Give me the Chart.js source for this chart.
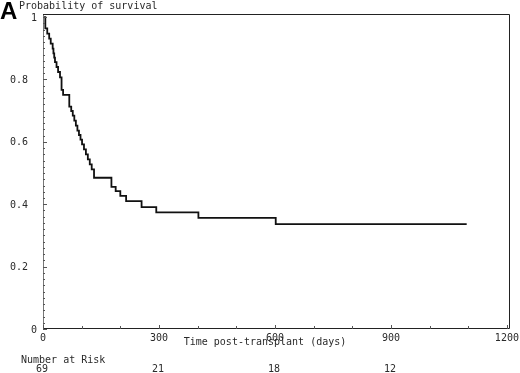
<!DOCTYPE html>
<html>
<head>
<meta charset="utf-8">
<script src="https://cdn.jsdelivr.net/npm/chart.js@4"></script>
<style>
html, body { margin: 0; padding: 0; background: #fff; }
#wrap { position: relative; width: 520px; height: 373px; }
</style>
</head>
<body>
<div id="wrap"><canvas id="km"></canvas></div>
<script>
// Kaplan-Meier, Werte
const days = [0, 6, 11, 16, 20, 25, 27, 29, 31, 35, 39, 44, 48, 52,
  68, 73, 77, 81, 85, 89, 93, 97, 101, 106, 111, 116, 121, 126, 132,
  177, 188, 200, 215, 255, 293, 402, 602, 1096];
const survival = [1.0, 0.964, 0.947, 0.931, 0.915, 0.899, 0.884, 0.870, 0.856, 0.840, 0.824, 0.807, 0.767, 0.751,
  0.713, 0.699, 0.684, 0.668, 0.652, 0.636, 0.622, 0.607, 0.592, 0.576, 0.560, 0.544, 0.528, 0.512, 0.485,
  0.456, 0.442, 0.427, 0.410, 0.391, 0.374, 0.356, 0.336, 0.336];

const xTicks = [0, 100, 200, 300, 400, 500, 600, 700, 800, 900, 1000, 1100, 1200];
const xLabelTicks = [0, 300, 600, 900, 1200];
const yTickValues = [0, 0.2, 0.4, 0.6, 0.8, 1];
const yTickLabels = ['0', '0.2', '0.4', '0.6', '0.8', '1'];
const riskTimes = [0, 300, 600, 900];
const riskCounts = [69, 21, 18, 12];

const monoFont = '10px "DejaVu Sans Mono", monospace';
const textColor = '#2a2a2a';

const points = days.map((d, i) => ({ x: d, y: survival[i] }));

// Rahmen, Ticks nach innen und die Beschriftungen
const framePlugin = {
  id: 'frame',
  afterDraw(chart) {
    const ctx = chart.ctx;
    const a = chart.chartArea;
    const x = chart.scales.x;
    const y = chart.scales.y;
    ctx.save();

    // linke Achse
    ctx.strokeStyle = '#777';
    ctx.lineWidth = 1;
    ctx.beginPath();
    ctx.moveTo(a.left + 0.5, a.top);
    ctx.lineTo(a.left + 0.5, a.bottom);
    ctx.stroke();

    // Rahmen oben, rechts, unten
    ctx.strokeStyle = '#222';
    ctx.beginPath();
    ctx.moveTo(a.left, a.top + 0.5);
    ctx.lineTo(a.right - 0.5, a.top + 0.5);
    ctx.lineTo(a.right - 0.5, a.bottom - 0.5);
    ctx.lineTo(a.left, a.bottom - 0.5);
    ctx.stroke();

    // kleine Ticks y
    ctx.strokeStyle = '#555';
    ctx.beginPath();
    for (let k = 0; k <= 50; k++) {
      const py = Math.round(y.getPixelForValue(k / 50)) + 0.5;
      const len = (k % 10 === 0) ? 4 : 2;
      ctx.moveTo(a.left, py);
      ctx.lineTo(a.left + len, py);
    }
    ctx.stroke();

    // Ticks x
    ctx.beginPath();
    xTicks.forEach(v => {
      const px = Math.round(x.getPixelForValue(v)) + 0.5;
      const len = xLabelTicks.includes(v) ? 4 : 3;
      ctx.moveTo(px, a.bottom);
      ctx.lineTo(px, a.bottom - len);
    });
    ctx.stroke();

    ctx.fillStyle = textColor;
    ctx.font = monoFont;

    // y Beschriftung
    ctx.textBaseline = 'middle';
    ctx.textAlign = 'right';
    yTickValues.forEach((v, i) => {
      const lab = yTickLabels[i];
      const rx = lab.length === 1 ? 37 : 28;
      ctx.fillText(lab, rx, y.getPixelForValue(v) + 1);
    });

    ctx.textBaseline = 'alphabetic';
    ctx.textAlign = 'left';
    ctx.fillText('Probability of survival', 19, 9);

    ctx.textAlign = 'center';
    ctx.fillText('Time post-transplant (days)', 265, 345);

    ctx.textAlign = 'left';
    ctx.fillText('Number at Risk', 21, 363);

    ctx.textAlign = 'center';
    riskTimes.forEach((t, i) => {
      ctx.fillText(String(riskCounts[i]), x.getPixelForValue(t) - 1, 372);
    });

    // Panel-Buchstabe
    ctx.font = 'bold 24px "Liberation Sans", Arial, sans-serif';
    ctx.fillStyle = '#000';
    ctx.textAlign = 'left';
    ctx.fillText('A', 0, 19);

    ctx.restore();
  }
};

const config = {
  type: 'line',
  data: {
    datasets: [{
      label: 'Probability of survival',
      data: points,
      stepped: 'before',
      borderColor: '#111',
      borderWidth: 1.8,
      pointRadius: 0,
      fill: false
    }]
  },
  options: {
    responsive: false,
    animation: false,
    layout: {
      padding: { left: 43, right: 10, top: 14, bottom: 26 }
    },
    scales: {
      x: {
        type: 'linear',
        min: 0,
        max: 1208,
        afterBuildTicks: function(scale) {
          scale.ticks = xLabelTicks.map(v => ({ value: v }));
        },
        afterFit: function(scale) {
          // Beschriftung darf ueber den Rand hinausragen
          scale.paddingLeft = 0;
          scale.paddingRight = 0;
        },
        grid: { display: false, drawTicks: false },
        border: { display: false },
        ticks: {
          padding: 3,
          maxRotation: 0,
          autoSkip: false,
          color: textColor,
          font: { family: '"DejaVu Sans Mono", monospace', size: 10 },
          callback: function(value) {
            return String(value);
          }
        }
      },
      y: {
        type: 'linear',
        min: 0,
        max: 1.01,
        grid: { display: false, drawTicks: false },
        border: { display: false },
        ticks: { display: false }
      }
    },
    plugins: {
      legend: { display: false },
      tooltip: { enabled: false }
    }
  },
  plugins: [framePlugin]
};

const canvas = document.getElementById('km');
canvas.width = 520;
canvas.height = 373;
new Chart(canvas, config);
</script>
</body>
</html>
